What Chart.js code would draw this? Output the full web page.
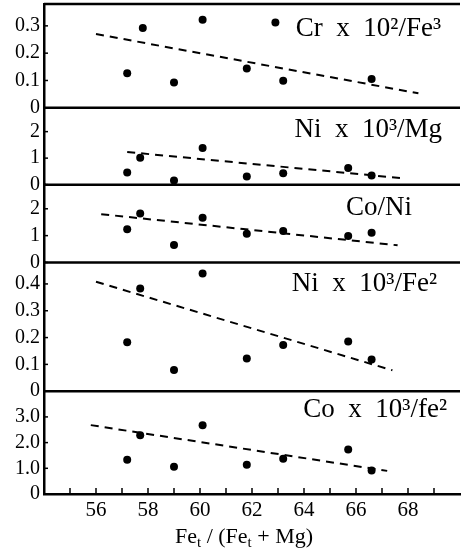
<!DOCTYPE html>
<html>
<head>
<meta charset="utf-8">
<script src="https://cdn.jsdelivr.net/npm/chart.js@4/dist/chart.umd.min.js"></script>
<style>
  html, body { margin: 0; padding: 0; background: #fff; }
</style>
</head>
<body>
<canvas id="c"></canvas>
<script>
// Fe_t / (Fe_t + Mg) of each sample
const feRatio = [57.2, 57.7, 59.0, 60.1, 61.8, 63.2, 65.7, 66.6];
const feRatioCr = [57.2, 57.8, 59.0, 60.1, 61.8, 62.9, 63.2, 66.6];

// panel values, top to bottom
const crFe3 = [0.126, 0.292, 0.093, 0.322, 0.144, 0.312, 0.099, 0.105];
const niMg = [0.46, 1.01, 0.16, 1.38, 0.31, 0.43, 0.63, 0.34];
const coNi = [1.24, 1.82, 0.65, 1.67, 1.07, 1.17, 0.99, 1.11];
const niFe2 = [0.183, 0.383, 0.079, 0.439, 0.122, 0.172, 0.185, 0.118];
const coFe2 = [1.33, 2.29, 1.06, 2.68, 1.14, 1.37, 1.73, 0.91];

// dashed trend lines: [x0, y0, x1, y1]
const trendCr = [56.0, 0.27, 68.4, 0.053];
const trendNiMg = [57.2, 1.23, 67.7, 0.25];
const trendCoNi = [56.2, 1.80, 67.6, 0.64];
const trendNiFe2 = [56.0, 0.408, 67.4, 0.078];
const trendCoFe2 = [55.8, 2.68, 67.2, 0.90];

// axes
const xTicks = [55, 56, 57, 58, 59, 60, 61, 62, 63, 64, 65, 66, 67, 68, 69];
const yMax = [0.38, 2.9, 2.9, 0.48, 4.0];
const yTicks = [
  [0, 0.1, 0.2, 0.3],
  [0, 1, 2],
  [0, 1, 2],
  [0, 0.1, 0.2, 0.3, 0.4],
  [0, 1, 2, 3]
];
const yTickLabels = [
  ['0', '0.1', '0.2', '0.3'],
  ['0', '1', '2'],
  ['0', '1', '2'],
  ['0', '0.1', '0.2', '0.3', '0.4'],
  ['0', '1.0', '2.0', '3.0']
];
const panelTitles = ['Cr  x  10²/Fe³', 'Ni  x  10³/Mg', 'Co/Ni', 'Ni  x  10³/Fe²', 'Co  x  10³/fe²'];

const panelValues = [crFe3, niMg, coNi, niFe2, coFe2];
const panelX = [feRatioCr, feRatio, feRatio, feRatio, feRatio];
const panelTrend = [trendCr, trendNiMg, trendCoNi, trendNiFe2, trendCoFe2];

// look
const SERIF = '"Liberation Serif", "Times New Roman", serif';
const panelHeights = [104, 77, 78, 129, 103];
const titleRight = [441, 442, 412, 437, 447];
const titleDrop = [32, 29, 30, 29, 26];

const canvas = document.getElementById('c');
canvas.width = 464;
canvas.height = 554;
canvas.style.width = '464px';
canvas.style.height = '554px';

const datasets = [];
const scales = {
  x: {
    type: 'linear',
    position: 'bottom',
    min: 54,
    max: 70,
    afterBuildTicks: s => { s.ticks = xTicks.map(v => ({ value: v })); },
    afterFit: s => { s.height = 60; s.paddingLeft = 0; s.paddingRight = 0; },
    grid: { display: false, drawTicks: false },
    border: { display: true, color: '#000', width: 2.5 },
    ticks: {
      padding: 4,
      color: '#000',
      font: { family: SERIF, size: 21 },
      maxRotation: 0,
      autoSkip: false,
      callback: v => (v % 2 === 0 ? String(v) : '')
    }
  }
};

panelValues.forEach((vals, i) => {
  const id = 'y' + i;
  datasets.push({
    type: 'scatter',
    yAxisID: id,
    data: vals.map((v, j) => ({ x: panelX[i][j], y: v })),
    backgroundColor: '#000',
    borderWidth: 0,
    pointRadius: 4
  });
  const t = panelTrend[i];
  datasets.push({
    type: 'scatter',
    yAxisID: id,
    showLine: true,
    data: [{ x: t[0], y: t[1] }, { x: t[2], y: t[3] }],
    borderColor: '#000',
    borderWidth: 2,
    borderDash: [8, 6],
    pointRadius: 0
  });
});

// stacked left axes: the one defined first ends up at the bottom
for (let i = panelValues.length - 1; i >= 0; i--) {
  scales['y' + i] = {
    type: 'linear',
    position: 'left',
    stack: 'panels',
    stackWeight: panelHeights[i],
    min: 0,
    max: yMax[i],
    afterBuildTicks: s => { s.ticks = yTicks[i].map(v => ({ value: v })); },
    afterFit: s => { s.width = 44; s.paddingTop = 0; s.paddingBottom = 0; },
    grid: { display: false, drawTicks: false },
    border: { display: true, color: '#000', width: 2.5 },
    ticks: {
      padding: 4,
      color: '#000',
      autoSkip: false,
      font: { family: SERIF, size: 20 },
      callback: (v, k) => yTickLabels[i][k]
    }
  };
}

const framePlugin = {
  id: 'frame',
  afterDraw(chart) {
    const ctx = chart.ctx;
    const area = chart.chartArea;
    ctx.save();
    ctx.strokeStyle = '#000';
    ctx.fillStyle = '#000';

    // panel separators and top edge, inward ticks
    panelValues.forEach((_, i) => {
      const s = chart.scales['y' + i];
      ctx.lineWidth = 2.5;
      ctx.beginPath();
      ctx.moveTo(area.left, s.top);
      ctx.lineTo(area.right, s.top);
      ctx.stroke();
      ctx.lineWidth = 1.5;
      s.ticks.forEach(tk => {
        const py = s.getPixelForValue(tk.value);
        ctx.beginPath();
        ctx.moveTo(area.left, py);
        ctx.lineTo(area.left + 4, py);
        ctx.stroke();
      });
    });

    const xs = chart.scales.x;
    ctx.lineWidth = 1.5;
    xs.ticks.forEach(tk => {
      const px = xs.getPixelForValue(tk.value);
      ctx.beginPath();
      ctx.moveTo(px, area.bottom);
      ctx.lineTo(px, area.bottom - 6);
      ctx.stroke();
    });

    // panel titles
    ctx.font = '27px ' + SERIF;
    ctx.textAlign = 'right';
    ctx.textBaseline = 'alphabetic';
    panelTitles.forEach((t, i) => {
      const s = chart.scales['y' + i];
      ctx.fillText(t, titleRight[i], s.top + titleDrop[i]);
    });

    // x axis title with subscripts
    const parts = [['Fe', 0], ['t', 1], [' / (Fe', 0], ['t', 1], [' + Mg)', 0]];
    const big = '22px ' + SERIF, small = '15px ' + SERIF;
    let w = 0;
    parts.forEach(p => { ctx.font = p[1] ? small : big; w += ctx.measureText(p[0]).width; });
    let x = 244 - w / 2;
    const base = 543;
    ctx.textAlign = 'left';
    parts.forEach(p => {
      ctx.font = p[1] ? small : big;
      ctx.fillText(p[0], x, base + (p[1] ? 4 : 0));
      x += ctx.measureText(p[0]).width;
    });
    ctx.restore();
  }
};

new Chart(canvas.getContext('2d'), {
  type: 'scatter',
  data: { datasets },
  options: {
    responsive: false,
    animation: false,
    layout: { padding: { top: 4, left: 0, right: 0, bottom: 0 } },
    plugins: { legend: { display: false }, tooltip: { enabled: false } },
    scales
  },
  plugins: [framePlugin]
});
</script>
</body>
</html>
